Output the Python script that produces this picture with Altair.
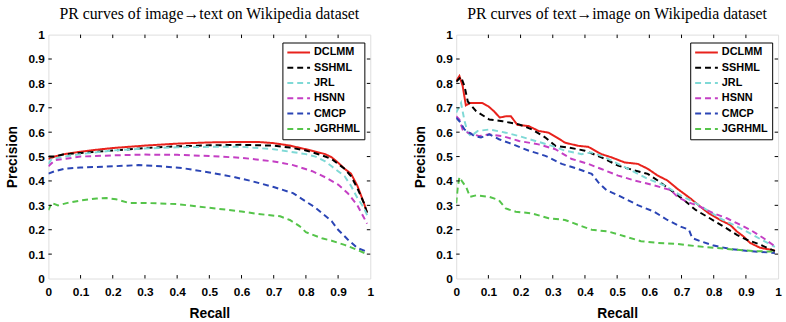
import altair as alt
import pandas as pd

methods = ["DCLMM", "SSHML", "JRL", "HSNN", "CMCP", "JGRHML"]
colors = ["#e8221c", "#000000", "#7fd9d6", "#c43fc4", "#2b45b5", "#55c44a"]
dashes = [[1, 0], [6, 4], [6, 4], [6, 4], [6, 4], [6, 4]]
tick_values = [0, 0.1, 0.2, 0.3, 0.4, 0.5, 0.6, 0.7, 0.8, 0.9, 1]
inner_ticks = [0.1, 0.2, 0.3, 0.4, 0.5, 0.6, 0.7, 0.8, 0.9]

# ---- image -> text ----
i2t_dclmm_x = [0, 0.02, 0.05, 0.1, 0.15, 0.2, 0.3, 0.4, 0.5, 0.6, 0.65, 0.7, 0.75, 0.8, 0.83, 0.86, 0.88, 0.9, 0.92, 0.94, 0.96, 0.98, 0.99]
i2t_dclmm_y = [0.49, 0.50, 0.51, 0.52, 0.528, 0.535, 0.545, 0.553, 0.558, 0.56, 0.56, 0.555, 0.545, 0.53, 0.52, 0.51, 0.497, 0.475, 0.45, 0.43, 0.38, 0.31, 0.27]
i2t_sshml_x = [0, 0.02, 0.05, 0.1, 0.2, 0.3, 0.4, 0.5, 0.6, 0.7, 0.75, 0.8, 0.85, 0.88, 0.9, 0.92, 0.94, 0.96, 0.98, 0.99]
i2t_sshml_y = [0.50, 0.50, 0.51, 0.515, 0.525, 0.535, 0.542, 0.546, 0.548, 0.545, 0.537, 0.525, 0.505, 0.49, 0.47, 0.45, 0.42, 0.37, 0.31, 0.27]
i2t_jrl_x = [0, 0.01, 0.05, 0.1, 0.2, 0.3, 0.4, 0.5, 0.6, 0.7, 0.75, 0.8, 0.83, 0.86, 0.88, 0.9, 0.92, 0.94, 0.96, 0.98, 0.99]
i2t_jrl_y = [0.47, 0.49, 0.50, 0.51, 0.525, 0.533, 0.538, 0.54, 0.54, 0.53, 0.52, 0.51, 0.50, 0.48, 0.46, 0.44, 0.42, 0.38, 0.33, 0.29, 0.26]
i2t_hsnn_x = [0, 0.02, 0.05, 0.1, 0.2, 0.3, 0.4, 0.5, 0.6, 0.7, 0.76, 0.82, 0.86, 0.9, 0.93, 0.96, 0.99]
i2t_hsnn_y = [0.46, 0.485, 0.49, 0.50, 0.505, 0.508, 0.507, 0.502, 0.495, 0.48, 0.465, 0.44, 0.415, 0.385, 0.35, 0.30, 0.225]
i2t_cmcp_x = [0, 0.02, 0.05, 0.1, 0.2, 0.28, 0.35, 0.42, 0.5, 0.58, 0.63, 0.7, 0.76, 0.83, 0.88, 0.9, 0.93, 0.96, 0.99]
i2t_cmcp_y = [0.43, 0.44, 0.45, 0.455, 0.46, 0.465, 0.46, 0.452, 0.435, 0.415, 0.40, 0.375, 0.35, 0.29, 0.235, 0.20, 0.16, 0.125, 0.11]
i2t_jgrhml_x = [0, 0.01, 0.03, 0.06, 0.1, 0.15, 0.18, 0.21, 0.25, 0.3, 0.4, 0.5, 0.6, 0.65, 0.72, 0.75, 0.78, 0.8, 0.82, 0.85, 0.88, 0.92, 0.96, 0.99]
i2t_jgrhml_y = [0.28, 0.31, 0.30, 0.31, 0.32, 0.328, 0.33, 0.325, 0.31, 0.31, 0.305, 0.29, 0.275, 0.265, 0.255, 0.24, 0.215, 0.19, 0.18, 0.165, 0.155, 0.138, 0.117, 0.10]

# ---- text -> image ----
t2i_dclmm_x = [0, 0.01, 0.02, 0.03, 0.043, 0.08, 0.10, 0.118, 0.135, 0.154, 0.17, 0.19, 0.225, 0.256, 0.287, 0.313, 0.338, 0.379, 0.41, 0.451, 0.482, 0.523, 0.564, 0.595, 0.626, 0.656, 0.687, 0.728, 0.759, 0.785, 0.82, 0.851, 0.872, 0.892, 0.913, 0.944, 0.99]
t2i_dclmm_y = [0.81, 0.83, 0.79, 0.71, 0.72, 0.72, 0.706, 0.685, 0.66, 0.665, 0.665, 0.63, 0.625, 0.605, 0.598, 0.578, 0.557, 0.544, 0.54, 0.51, 0.497, 0.476, 0.47, 0.45, 0.422, 0.402, 0.368, 0.328, 0.294, 0.267, 0.24, 0.22, 0.193, 0.173, 0.146, 0.126, 0.115]
t2i_sshml_x = [0, 0.015, 0.026, 0.036, 0.062, 0.103, 0.144, 0.195, 0.236, 0.277, 0.308, 0.349, 0.4, 0.451, 0.503, 0.554, 0.595, 0.626, 0.667, 0.708, 0.744, 0.779, 0.831, 0.872, 0.903, 0.944, 0.99]
t2i_sshml_y = [0.807, 0.827, 0.787, 0.726, 0.686, 0.652, 0.645, 0.632, 0.611, 0.578, 0.544, 0.537, 0.524, 0.497, 0.463, 0.443, 0.429, 0.402, 0.362, 0.321, 0.281, 0.254, 0.213, 0.179, 0.159, 0.139, 0.112]
t2i_jrl_x = [0, 0.01, 0.015, 0.026, 0.036, 0.046, 0.067, 0.103, 0.154, 0.195, 0.246, 0.297, 0.338, 0.39, 0.42, 0.462, 0.503, 0.544, 0.595, 0.646, 0.697, 0.738, 0.779, 0.82, 0.872, 0.913, 0.954, 0.99]
t2i_jrl_y = [0.68, 0.706, 0.72, 0.645, 0.598, 0.584, 0.605, 0.611, 0.598, 0.584, 0.564, 0.544, 0.524, 0.51, 0.517, 0.497, 0.47, 0.443, 0.409, 0.382, 0.341, 0.314, 0.281, 0.247, 0.213, 0.185, 0.155, 0.13]
t2i_hsnn_x = [0, 0.01, 0.02, 0.036, 0.072, 0.103, 0.144, 0.195, 0.256, 0.308, 0.359, 0.41, 0.451, 0.503, 0.554, 0.615, 0.667, 0.687, 0.718, 0.759, 0.8, 0.841, 0.872, 0.913, 0.954, 0.99]
t2i_hsnn_y = [0.665, 0.652, 0.611, 0.598, 0.584, 0.591, 0.584, 0.564, 0.55, 0.53, 0.49, 0.47, 0.449, 0.422, 0.402, 0.382, 0.362, 0.335, 0.314, 0.294, 0.267, 0.247, 0.227, 0.2, 0.166, 0.132]
t2i_cmcp_x = [0, 0.01, 0.026, 0.041, 0.056, 0.077, 0.103, 0.133, 0.174, 0.226, 0.277, 0.328, 0.379, 0.421, 0.441, 0.467, 0.513, 0.564, 0.615, 0.656, 0.697, 0.723, 0.733, 0.759, 0.8, 0.851, 0.913, 0.99]
t2i_cmcp_y = [0.659, 0.645, 0.611, 0.598, 0.584, 0.578, 0.591, 0.571, 0.551, 0.524, 0.503, 0.47, 0.449, 0.429, 0.395, 0.362, 0.335, 0.301, 0.274, 0.24, 0.213, 0.2, 0.166, 0.153, 0.135, 0.121, 0.112, 0.105]
t2i_jgrhml_x = [0, 0.005, 0.01, 0.02, 0.031, 0.043, 0.062, 0.103, 0.133, 0.154, 0.185, 0.236, 0.287, 0.338, 0.379, 0.421, 0.472, 0.523, 0.574, 0.626, 0.687, 0.749, 0.8, 0.862, 0.933, 0.99]
t2i_jgrhml_y = [0.308, 0.375, 0.416, 0.395, 0.375, 0.335, 0.341, 0.335, 0.321, 0.287, 0.274, 0.267, 0.247, 0.24, 0.22, 0.2, 0.193, 0.173, 0.153, 0.146, 0.142, 0.132, 0.126, 0.119, 0.112, 0.11]

i2t = {
    "DCLMM": (i2t_dclmm_x, i2t_dclmm_y),
    "SSHML": (i2t_sshml_x, i2t_sshml_y),
    "JRL": (i2t_jrl_x, i2t_jrl_y),
    "HSNN": (i2t_hsnn_x, i2t_hsnn_y),
    "CMCP": (i2t_cmcp_x, i2t_cmcp_y),
    "JGRHML": (i2t_jgrhml_x, i2t_jgrhml_y),
}
t2i = {
    "DCLMM": (t2i_dclmm_x, t2i_dclmm_y),
    "SSHML": (t2i_sshml_x, t2i_sshml_y),
    "JRL": (t2i_jrl_x, t2i_jrl_y),
    "HSNN": (t2i_hsnn_x, t2i_hsnn_y),
    "CMCP": (t2i_cmcp_x, t2i_cmcp_y),
    "JGRHML": (t2i_jgrhml_x, t2i_jgrhml_y),
}

W, H = 326, 247
TICK = 3.5
SANS = "Liberation Sans"


def long_frame(series):
    rows = []
    for m in methods:
        xs, ys = series[m]
        for k, (x, y) in enumerate(zip(xs, ys)):
            rows.append({"method": m, "recall": x, "precision": y, "k": k})
    return pd.DataFrame(rows)


def panel(title, series):
    sc = alt.Scale(domain=[0, 1], nice=False, zero=False)
    xaxis = alt.Axis(values=tick_values, format="~g", labelFont=SANS, labelFontWeight="bold",
                     labelFontSize=12, labelColor="black", labelPadding=8, labelFlush=False,
                     labelOverlap=False, ticks=False, domain=False, grid=False,
                     title="Recall", titleFont=SANS, titleFontSize=14, titleFontWeight="bold",
                     titleColor="black", titlePadding=8, minExtent=20, maxExtent=20)
    yaxis = alt.Axis(values=tick_values, format="~g", labelFont=SANS, labelFontWeight="bold",
                     labelFontSize=12, labelColor="black", labelPadding=4, labelFlush=False,
                     labelOverlap=False, ticks=False, domain=False, grid=False,
                     title="Precision", titleFont=SANS, titleFontSize=14, titleFontWeight="bold",
                     titleColor="black", titlePadding=7, minExtent=22, maxExtent=22)
    leg = alt.Legend(orient="none", legendX=237, legendY=8, title=None, strokeColor="black",
                     fillColor="white", padding=4, symbolType="stroke", symbolSize=529,
                     symbolStrokeWidth=2, clipHeight=12, rowPadding=3.5, labelFont=SANS,
                     labelFontWeight="bold", labelFontSize=11, labelColor="black", labelOffset=3,
                     cornerRadius=0)
    lines = alt.Chart(long_frame(series)).mark_line(strokeWidth=2, clip=True).encode(
        x=alt.X("recall:Q", scale=sc, axis=xaxis, title="Recall"),
        y=alt.Y("precision:Q", scale=sc, axis=yaxis, title="Precision"),
        color=alt.Color("method:N", scale=alt.Scale(domain=methods, range=colors), legend=leg),
        strokeDash=alt.StrokeDash("method:N", scale=alt.Scale(domain=methods, range=dashes), legend=leg),
        order=alt.Order("k:Q"),
    )
    tdf = pd.DataFrame({"t": inner_ticks})
    base = alt.Chart(tdf).mark_rule(color="black", strokeWidth=1)
    bx = alt.X("t:Q", scale=sc, axis=xaxis, title="Recall")
    by = alt.Y("t:Q", scale=sc, axis=yaxis, title="Precision")
    bottom = base.encode(x=bx, y=alt.value(H), y2=alt.value(H - TICK))
    top = base.encode(x=bx, y=alt.value(0), y2=alt.value(TICK))
    left = base.encode(y=by, x=alt.value(0), x2=alt.value(TICK))
    right = base.encode(y=by, x=alt.value(W), x2=alt.value(W - TICK))
    return alt.layer(lines, bottom, top, left, right).properties(
        width=W, height=H,
        title=alt.TitleParams(title, font="Liberation Serif", fontSize=16, fontWeight="normal",
                              anchor="middle", frame="group", offset=7, color="black"),
    )


chart = alt.hconcat(
    panel("PR curves of image\u2192text on Wikipedia dataset", i2t),
    panel("PR curves of text\u2192image on Wikipedia dataset", t2i),
    spacing=39,
).resolve_scale(color="independent", strokeDash="independent").resolve_legend(
    color="independent", strokeDash="independent"
).properties(
    padding={"left": 5, "top": 3, "right": 4, "bottom": 0}
).configure_view(stroke="black", strokeWidth=1).configure(background="white")

chart.save("out.html", embed_options={"renderer": "svg", "actions": False})
